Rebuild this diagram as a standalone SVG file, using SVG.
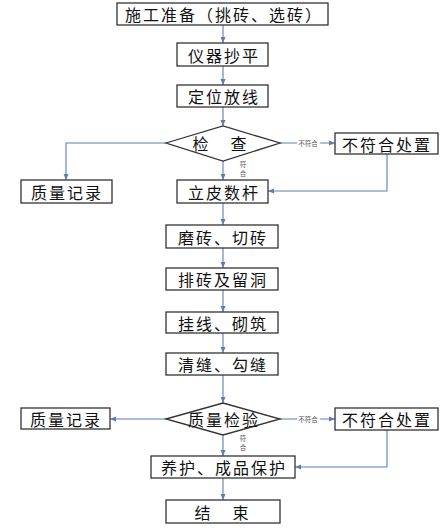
<svg xmlns="http://www.w3.org/2000/svg" width="442" height="530" viewBox="0 0 442 530">
<style>
.box{fill:#fff;stroke:#333;stroke-width:1.3}
.t{font-family:"Noto Sans CJK SC","Liberation Serif",serif;font-size:16px;fill:#111;text-anchor:middle;dominant-baseline:central;letter-spacing:2px}
.c{fill:none;stroke:#5b7fb5;stroke-width:1.1}
.s{font-family:"Noto Sans CJK SC",sans-serif;font-size:6.5px;fill:#555;text-anchor:middle;dominant-baseline:central}
.bg{stroke:#fff;stroke-width:3;paint-order:stroke}
</style>
<defs>
<marker id="a" markerWidth="7" markerHeight="6" refX="6" refY="3" orient="auto" markerUnits="userSpaceOnUse">
<path d="M0,0.5 L6,3 L0,5.5 Z" fill="#5b7fb5"/>
</marker>
</defs>
<g id="connectors">
<path class="c" d="M223,25 V43" marker-end="url(#a)"/>
<path class="c" d="M223,66 V85" marker-end="url(#a)"/>
<path class="c" d="M223,107 V126" marker-end="url(#a)"/>
<path class="c" d="M223,161 V180" marker-end="url(#a)"/>
<path class="c" d="M280,143 H335" marker-end="url(#a)"/>
<path class="c" d="M166,143 H66 V180" marker-end="url(#a)"/>
<path class="c" d="M387,154 V191 H268" marker-end="url(#a)"/>
<path class="c" d="M223,203 V225" marker-end="url(#a)"/>
<path class="c" d="M223,248 V268" marker-end="url(#a)"/>
<path class="c" d="M223,290 V312" marker-end="url(#a)"/>
<path class="c" d="M223,333 V353" marker-end="url(#a)"/>
<path class="c" d="M223,375 V403" marker-end="url(#a)"/>
<path class="c" d="M166,419 H110" marker-end="url(#a)"/>
<path class="c" d="M280,419 H335" marker-end="url(#a)"/>
<path class="c" d="M223,435 V456" marker-end="url(#a)"/>
<path class="c" d="M387,430 V467 H295" marker-end="url(#a)"/>
<path class="c" d="M223,478 V500" marker-end="url(#a)"/>
<text class="s bg" x="308" y="143">不符合</text>
<text class="s" x="243" y="164">符</text>
<text class="s" x="243" y="173">合</text>
<text class="s bg" x="308" y="419">不符合</text>
<text class="s" x="243" y="438">符</text>
<text class="s" x="243" y="447">合</text>
</g>
<g id="n1"><rect class="box" x="117" y="3" width="211" height="22"/><text class="t" x="224" y="14">施工准备（挑砖、选砖）</text></g>
<g id="n2"><rect class="box" x="177" y="43" width="91" height="23"/><text class="t" x="224" y="54.5">仪器抄平</text></g>
<g id="n3"><rect class="box" x="177" y="85" width="91" height="22"/><text class="t" x="224" y="96">定位放线</text></g>
<g id="d1"><polygon class="box" points="166,143 223,126 280,143 223,161"/><text class="t" x="221" y="143" style="letter-spacing:3px">检　查</text></g>
<g id="n4"><rect class="box" x="335" y="133" width="103" height="21"/><text class="t" x="387" y="143.5">不符合处置</text></g>
<g id="n5"><rect class="box" x="21" y="180" width="91" height="23"/><text class="t" x="67" y="191.5">质量记录</text></g>
<g id="n6"><rect class="box" x="177" y="180" width="91" height="23"/><text class="t" x="224" y="191.5">立皮数杆</text></g>
<g id="n7"><rect class="box" x="166" y="225" width="112" height="23"/><text class="t" x="223" y="236.5">磨砖、切砖</text></g>
<g id="n8"><rect class="box" x="166" y="268" width="112" height="22"/><text class="t" x="223" y="279">排砖及留洞</text></g>
<g id="n9"><rect class="box" x="166" y="312" width="112" height="21"/><text class="t" x="223" y="322.5">挂线、砌筑</text></g>
<g id="n10"><rect class="box" x="166" y="353" width="112" height="22"/><text class="t" x="223" y="364">清缝、勾缝</text></g>
<g id="d2"><polygon class="box" points="166,419 223,403 280,419 223,435"/><text class="t" x="224" y="419">质量检验</text></g>
<g id="n11"><rect class="box" x="21" y="408" width="89" height="21"/><text class="t" x="66" y="418.5">质量记录</text></g>
<g id="n12"><rect class="box" x="335" y="408" width="103" height="22"/><text class="t" x="387" y="419">不符合处置</text></g>
<g id="n13"><rect class="box" x="151" y="456" width="144" height="22"/><text class="t" x="224" y="467">养护、成品保护</text></g>
<g id="n14"><rect class="box" x="166" y="500" width="114" height="23"/><text class="t" x="223" y="511.5" style="letter-spacing:3px">结　束</text></g>
</svg>
